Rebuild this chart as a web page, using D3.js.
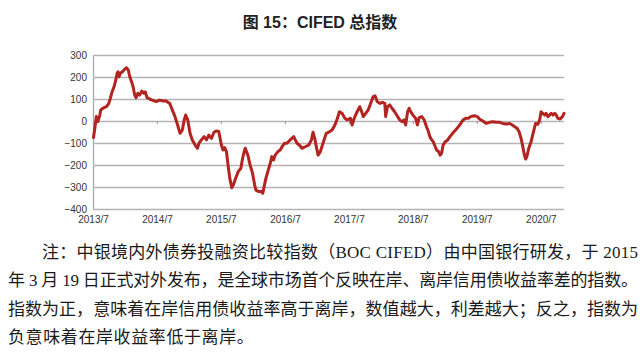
<!DOCTYPE html>
<html>
<head>
<meta charset="utf-8">
<script src="https://cdn.jsdelivr.net/npm/d3@7"></script>
<style>
  html, body { margin: 0; padding: 0; background: #fff; }
  svg { display: block; }
</style>
</head>
<body>
<svg id="chart" width="640" height="358"></svg>
<script>
/*
** DATA
*/
// CIFED total index (date, value)
const dates = [
  "2013-07-04","2013-07-14","2013-07-20","2013-07-29","2013-08-09","2013-08-14","2013-08-27","2013-09-16",
  "2013-09-29","2013-10-08","2013-10-18","2013-10-29","2013-11-06","2013-11-16","2013-11-21","2013-11-27",
  "2013-12-04","2013-12-16","2013-12-30","2014-01-08","2014-01-18","2014-01-27","2014-02-06","2014-02-15",
  "2014-02-24","2014-03-04","2014-03-14","2014-03-24","2014-04-06","2014-04-17","2014-04-25","2014-05-06",
  "2014-05-20","2014-06-08","2014-06-27","2014-07-16","2014-08-05","2014-08-23","2014-09-12","2014-09-23",
  "2014-10-12","2014-10-27","2014-11-10","2014-11-23","2014-12-04","2014-12-12","2014-12-24","2015-01-06",
  "2015-01-19","2015-02-04","2015-02-17","2015-02-26","2015-03-12","2015-03-27","2015-04-10","2015-04-23",
  "2015-05-08","2015-05-23","2015-06-06","2015-06-19","2015-07-04","2015-07-13","2015-07-23","2015-08-02",
  "2015-08-11","2015-08-21","2015-09-01","2015-09-10","2015-09-23","2015-10-08","2015-10-23","2015-11-02",
  "2015-11-11","2015-11-17","2015-12-02","2015-12-15","2015-12-29","2016-01-10","2016-01-17","2016-02-02",
  "2016-02-17","2016-02-25","2016-03-02","2016-03-14","2016-03-25","2016-04-08","2016-04-17","2016-04-27",
  "2016-05-06","2016-05-22","2016-06-04","2016-06-14","2016-06-29","2016-07-12","2016-07-31","2016-08-20",
  "2016-08-29","2016-09-08","2016-09-21","2016-10-06","2016-10-25","2016-11-14","2016-11-29","2016-12-08",
  "2016-12-18","2016-12-25","2017-01-06","2017-01-19","2017-01-31","2017-02-09","2017-02-22","2017-03-08",
  "2017-03-27","2017-04-12","2017-04-25","2017-05-08","2017-05-23","2017-06-08","2017-06-21","2017-07-10",
  "2017-07-19","2017-08-04","2017-08-17","2017-09-01","2017-09-12","2017-09-21","2017-10-05","2017-10-19",
  "2017-11-02","2017-11-16","2017-11-27","2017-12-10","2017-12-24","2018-01-08","2018-01-22","2018-01-27",
  "2018-02-06","2018-02-19","2018-03-04","2018-03-19","2018-04-02","2018-04-17","2018-05-02","2018-05-11",
  "2018-05-21","2018-06-01","2018-06-10","2018-06-19","2018-07-02","2018-07-17","2018-07-27","2018-08-06",
  "2018-08-21","2018-09-04","2018-09-17","2018-09-28","2018-10-06","2018-10-17","2018-10-25","2018-11-06",
  "2018-11-14","2018-11-25","2018-12-04","2018-12-12","2018-12-21","2019-01-02","2019-01-16","2019-01-29",
  "2019-02-13","2019-03-02","2019-03-18","2019-04-01","2019-04-14","2019-04-29","2019-05-14","2019-05-27",
  "2019-06-16","2019-07-05","2019-07-16","2019-08-05","2019-08-23","2019-09-12","2019-10-01","2019-10-20",
  "2019-11-09","2019-11-27","2019-12-16","2020-01-05","2020-01-20","2020-02-03","2020-02-16","2020-02-27",
  "2020-03-10","2020-03-20","2020-03-29","2020-04-05","2020-04-12","2020-04-23","2020-05-06","2020-05-20",
  "2020-06-01","2020-06-14","2020-06-24","2020-07-02","2020-07-12","2020-07-22","2020-07-31","2020-08-10",
  "2020-08-20","2020-08-29","2020-09-08","2020-09-18","2020-09-27","2020-10-06","2020-10-19","2020-11-01",
  "2020-11-10"
];
const values = [
  -75, -18, 20, -3, 27, 50, 58, 65,
  80, 103, 133, 156, 179, 217, 224, 201,
  217, 224, 236, 242, 232, 201, 179, 156,
  118, 106, 126, 118, 136, 126, 133, 106,
  100, 94, 88, 95, 91, 91, 80, 58,
  20, -18, -56, -41, 5, 27, 5, -56,
  -86, -109, -124, -101, -86, -71, -86, -64,
  -79, -51, -45, -48, -109, -132, -121, -139,
  -200, -261, -303, -291, -261, -230, -215, -170,
  -139, -124, -155, -200, -238, -291, -314, -321,
  -321, -329, -306, -261, -230, -192, -162, -177,
  -155, -139, -132, -117, -101, -101, -86, -71,
  -86, -101, -109, -124, -117, -109, -86, -51,
  -79, -109, -155, -139, -109, -86, -56, -51,
  -41, -18, 9, 42, 35, 12, 5, 12,
  -18, 20, 42, 65, 42, 20, 35, 50,
  80, 110, 115, 88, 80, 85, 80, 20,
  65, 73, 58, 42, 24, 5, -3, 5,
  -18, 42, 58, 42, 27, 12, -18, 15,
  20, 5, -26, -48, -71, -86, -94, -117,
  -132, -139, -155, -147, -109, -94, -86, -71,
  -56, -41, -26, -11, 5, 12, 12, 20,
  24, 20, 9, 0, -11, -6, -3, -6,
  -6, -11, -14, -11, -18, -26, -33, -48,
  -79, -117, -155, -173, -162, -124, -94, -48,
  -11, -15, 5, 42, 35, 27, 35, 20,
  27, 35, 27, 35, 27, 12, 9, 20,
  35
];

// Axis ticks
const yTicks = [300, 200, 100, 0, -100, -200, -300, -400];
const xTickDates = ["2013-07-01","2014-07-01","2015-07-01","2016-07-01","2017-07-01","2018-07-01","2019-07-01","2020-07-01"];
const xTickLabels = ["2013/7","2014/7","2015/7","2016/7","2017/7","2018/7","2019/7","2020/7"];

// Title and note text
const title = "图 15：CIFED 总指数";
const noteLines = [
  "注：中银境内外债券投融资比较指数（BOC CIFED）由中国银行研发，于 2015",
  "年 3 月 19 日正式对外发布，是全球市场首个反映在岸、离岸信用债收益率差的指数。",
  "指数为正，意味着在岸信用债收益率高于离岸，数值越大，利差越大；反之，指数为",
  "负意味着在岸收益率低于离岸。"
];

/*
** DRAW
*/
const parseDate = d3.timeParse("%Y-%m-%d");
const series = dates.map((d, i) => ({ date: parseDate(d), value: values[i] }));

const svg = d3.select("#chart");
const plot = { left: 93, right: 564, top: 55, bottom: 209 };

const x = d3.scaleTime()
  .domain([parseDate("2013-07-01"), parseDate("2020-11-10")])
  .range([plot.left, plot.right]);

const y = d3.scaleLinear()
  .domain([-400, 300])
  .range([plot.bottom, plot.top]);

// Title
svg.append("text")
  .attr("x", 320)
  .attr("y", 28)
  .attr("text-anchor", "middle")
  .attr("font-family", "'Liberation Sans', 'Noto Sans CJK SC', sans-serif")
  .attr("font-weight", "bold")
  .attr("font-size", 16)
  .attr("fill", "#222")
  .text(title);

// Y axis with gridlines
const yAxis = svg.append("g")
  .attr("transform", `translate(${plot.left},0)`)
  .call(d3.axisLeft(y)
    .tickValues(yTicks)
    .tickSize(-(plot.right - plot.left))
    .tickSizeOuter(0)
    .tickPadding(6));
yAxis.select(".domain").attr("stroke", "#a8a8a8").attr("stroke-width", 1.3);
yAxis.selectAll(".tick line").attr("stroke", "#b4b4b4").attr("stroke-width", 1.3);
yAxis.selectAll(".tick text")
  .attr("font-family", "'Liberation Sans', Arial, sans-serif")
  .attr("font-size", 10)
  .attr("fill", "#333");

// Small tick marks sitting on the zero line
const zeroTicks = svg.append("g")
  .attr("transform", `translate(0,${y(0)})`)
  .call(d3.axisBottom(x)
    .tickValues(xTickDates.map(parseDate))
    .tickSize(3)
    .tickFormat(""));
zeroTicks.select(".domain").remove();
zeroTicks.selectAll(".tick line").attr("stroke", "#999");

// X labels along the bottom
const xAxis = svg.append("g")
  .attr("transform", `translate(0,${plot.bottom})`)
  .call(d3.axisBottom(x)
    .tickValues(xTickDates.map(parseDate))
    .tickSize(0)
    .tickPadding(7)
    .tickFormat((d, i) => xTickLabels[i]));
xAxis.select(".domain").remove();
xAxis.selectAll(".tick text")
  .attr("font-family", "'Liberation Sans', Arial, sans-serif")
  .attr("font-size", 10)
  .attr("fill", "#333");

// The index line
const line = d3.line()
  .x(d => x(d.date))
  .y(d => y(d.value));

svg.append("path")
  .datum(series)
  .attr("fill", "none")
  .attr("stroke", "#b3231f")
  .attr("stroke-width", 3)
  .attr("stroke-linejoin", "round")
  .attr("stroke-linecap", "round")
  .attr("d", line);

// Note paragraph, first three lines justified to the right edge
const noteStarts = [42, 8, 8, 8];
const noteBaselines = [258, 286, 315, 343];
noteLines.forEach((txt, i) => {
  const t = svg.append("text")
    .attr("x", noteStarts[i])
    .attr("y", noteBaselines[i])
    .attr("font-family", "'Liberation Serif', 'Noto Sans CJK SC', serif")
    .attr("font-size", 17)
    .attr("fill", "#1a1a1a")
    .text(txt);
  if (i < 3) {
    t.attr("textLength", 638 - noteStarts[i]).attr("lengthAdjust", "spacing");
  } else {
    t.attr("letter-spacing", 0.6);
  }
});
</script>
</body>
</html>
